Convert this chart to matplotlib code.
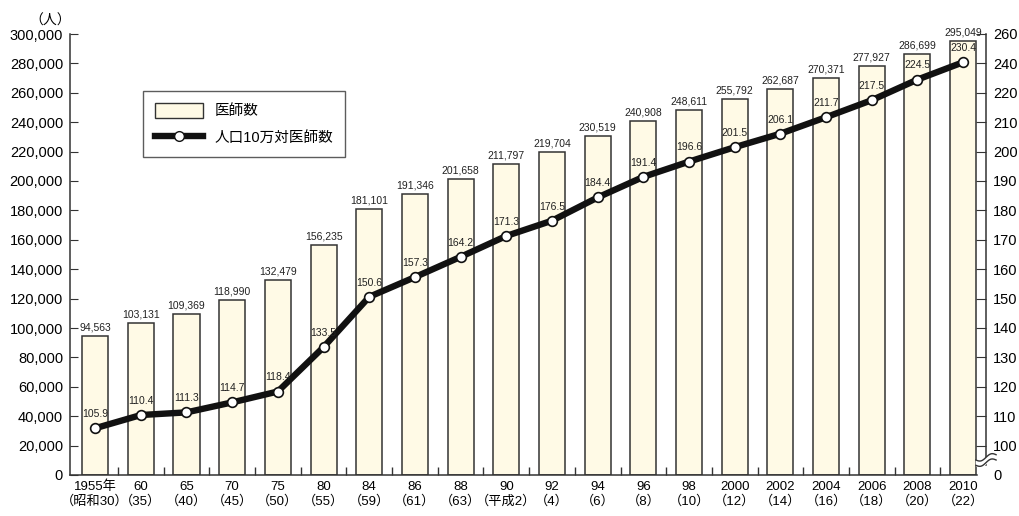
import numpy as np
import matplotlib
matplotlib.use('Agg')
import matplotlib.pyplot as plt
from matplotlib.lines import Line2D
from matplotlib.patches import Patch

plt.rcParams['font.family'] = ['Liberation Sans', 'Noto Sans CJK JP', 'DejaVu Sans']

years = ['1955年', '60', '65', '70', '75', '80', '84', '86', '88', '90',
         '92', '94', '96', '98', '2000', '2002', '2004', '2006', '2008', '2010']
eras = ['（昭和30）', '（35）', '（40）', '（45）', '（50）', '（55）', '（59）', '（61）',
        '（63）', '（平成2）', '（4）', '（6）', '（8）', '（10）', '（12）', '（14）',
        '（16）', '（18）', '（20）', '（22）']
doctors = [94563, 103131, 109369, 118990, 132479, 156235, 181101, 191346, 201658,
           211797, 219704, 230519, 240908, 248611, 255792, 262687, 270371, 277927,
           286699, 295049]
per100k = [105.9, 110.4, 111.3, 114.7, 118.4, 133.5, 150.6, 157.3, 164.2, 171.3,
           176.5, 184.4, 191.4, 196.6, 201.5, 206.1, 211.7, 217.5, 224.5, 230.4]
# right axis labels as printed in the source (top two differ from the scale)
right_ticks = [100, 110, 120, 130, 140, 150, 160, 170, 180, 190, 200, 210, 220, 230, 240]
right_labels = ['100', '110', '120', '130', '140', '150', '160', '170', '180', '190',
                '200', '210', '220', '240', '260']

x = np.arange(len(years))
bar_color = '#fffae6'
ink = '#333333'

fig = plt.figure(figsize=(10.2, 5.16), dpi=100)
ax = fig.add_axes([70 / 1020, 41 / 516, 916 / 1020, 441 / 516])

ax.bar(x, doctors, width=0.57, color=bar_color, edgecolor=ink, linewidth=1.1, zorder=2)
for xi, v in zip(x, doctors):
    ax.text(xi, v + 2400, f'{v:,}', ha='center', va='bottom', fontsize=7.5, color='#222222')

ax.set_xlim(-0.55, len(x) - 1 + 0.5)
ax.set_ylim(0, 300000)
ax.set_yticks(np.arange(0, 300001, 20000))
ax.set_yticklabels([f'{v:,}' for v in range(0, 300001, 20000)])
ax.set_xticks(x)
ax.set_xticklabels([f'{y}\n{e}' for y, e in zip(years, eras)], fontsize=9.5, linespacing=1.25)
ax.tick_params(axis='x', length=0, pad=4)
ax.set_xticks(x[:-1] + 0.5, minor=True)
ax.tick_params(axis='x', which='minor', direction='in', length=6, width=1, color=ink)
ax.tick_params(axis='y', direction='in', length=6, labelsize=10.5, color=ink, pad=5)
ax.spines['top'].set_visible(False)
ax.spines['right'].set_visible(False)
for s in ['left', 'bottom']:
    ax.spines[s].set_color(ink)
    ax.spines[s].set_linewidth(1.1)
ax.spines['bottom'].set_bounds(-0.55, len(x) - 1 + 0.3)
ax.text(-0.022, 1.015, '（人）', transform=ax.transAxes, ha='center', va='bottom', fontsize=10)

ax2 = ax.twinx()
ax2.set_ylim(90, 240)
ax2.plot(x, per100k, color='#111111', linewidth=4.6, marker='o', markersize=7,
         markerfacecolor='white', markeredgecolor='#111111', markeredgewidth=1.2, zorder=5)
for xi, v in zip(x, per100k):
    ax2.text(xi, v + 3.1, f'{v:.1f}', ha='center', va='bottom', fontsize=7.5,
             color='#222222', zorder=6)
ax2.set_yticks([90] + right_ticks)
ax2.set_yticklabels(['0'] + right_labels)
ax2.tick_params(axis='y', direction='in', length=7, labelsize=10.5, color=ink, pad=5)
ax2.yaxis.get_major_ticks()[0].tick2line.set_visible(False)
for s in ['top', 'left', 'bottom']:
    ax2.spines[s].set_visible(False)
ax2.spines['right'].set_color(ink)
ax2.spines['right'].set_linewidth(1.1)
ax2.spines['right'].set_bounds(93.5, 240)

# wavy break mark on the right axis
t = np.linspace(-1, 1, 40)
bx = 1.0 + t * 0.011
wave = 0.005 * np.sin(t * np.pi) + t * 0.006
ax2.fill_between(bx, 0.028 + wave, 0.04 + wave, color='white', transform=ax2.transAxes,
                 clip_on=False, zorder=7)
for dy in (0.028, 0.04):
    ax2.plot(bx, dy + wave, color=ink, linewidth=1, transform=ax2.transAxes,
             clip_on=False, zorder=8)

handles = [Patch(facecolor=bar_color, edgecolor=ink, linewidth=1),
           Line2D([0], [0], color='#111111', linewidth=4.6, marker='o', markersize=7,
                  markerfacecolor='white', markeredgecolor='#111111')]
leg = ax.legend(handles, ['医師数', '人口10万対医師数'], loc='upper left',
                bbox_to_anchor=(73 / 916, 384 / 441), fontsize=10.5, frameon=True,
                fancybox=False, handlelength=3.3, handleheight=1.2, borderpad=0.8,
                labelspacing=0.8, borderaxespad=0)
leg.get_frame().set_edgecolor(ink)
leg.get_frame().set_linewidth(1)

fig.savefig('out.png', dpi=100)
